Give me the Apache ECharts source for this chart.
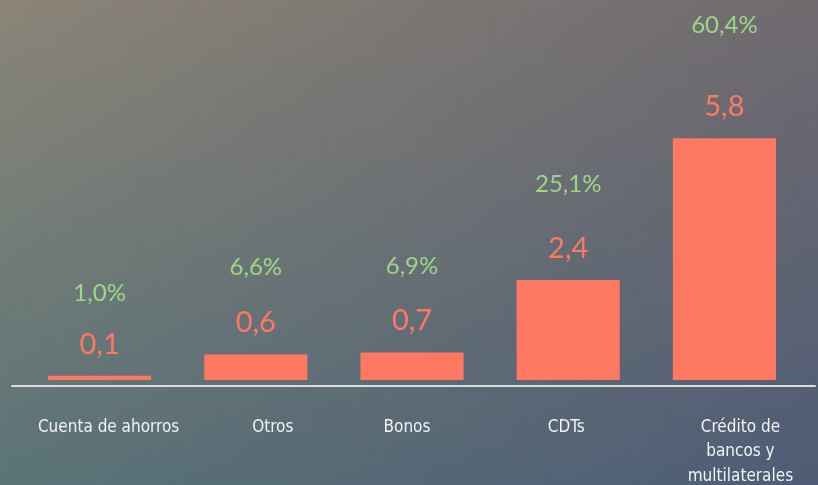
<!DOCTYPE html>
<html>
<head>
<meta charset="utf-8">
<script src="https://cdn.jsdelivr.net/npm/echarts@6/dist/echarts.min.js"></script>
<style>
  html, body { margin: 0; padding: 0; width: 818px; height: 485px; overflow: hidden; }
  body { position: relative; background: linear-gradient(to bottom, #8b8578 0%, #5b7477 100%); }
  #shade { position: absolute; left: 0; top: 0; width: 818px; height: 485px;
    background: linear-gradient(to bottom, #706a6f 0%, #4e5c75 100%);
    -webkit-mask-image: linear-gradient(to right, transparent 0%, black 100%);
    mask-image: linear-gradient(to right, transparent 0%, black 100%); }
  #chart { position: absolute; left: 0; top: 0; width: 818px; height: 485px; }
</style>
</head>
<body>
<div id="shade"></div>
<div id="chart"></div>
<script>
const categories = ["Cuenta de ahorros", "Otros", "Bonos", "CDTs", "Crédito de\nbancos y\nmultilaterales"];
const amounts = [0.1, 0.61, 0.66, 2.4, 5.8];
const shares = [1.0, 6.6, 6.9, 25.1, 60.4];

const fmt = (v, d) => v.toFixed(d).replace('.', ',');

// horizontal nudges of the category labels, as in the original slide layout
const labelNudge = [9, 17, -5, -2, 16];
const categoryItems = categories.map((c, i) => ({
  value: c,
  textStyle: { padding: labelNudge[i] >= 0 ? [0, 0, 0, 2 * labelNudge[i]] : [0, -2 * labelNudge[i], 0, 0] }
}));

const chart = echarts.init(document.getElementById('chart'), null, { renderer: 'canvas' });
chart.setOption({
  backgroundColor: 'transparent',
  animation: false,
  grid: [
    { left: 21.5, right: 15.5, top: 5, bottom: 105, containLabel: false, outerBoundsMode: 'none' },
    { left: 12, right: 3, top: 385.5, height: 0, containLabel: false, outerBoundsMode: 'none' }
  ],
  xAxis: [
    {
      type: 'category', gridIndex: 0, data: categoryItems,
      axisLine: { show: false }, axisTick: { show: false },
      axisLabel: {
        color: '#f2f2f2', fontFamily: "'DejaVu Sans Condensed', 'DejaVu Sans', sans-serif", fontSize: 17,
        lineHeight: 24.5, margin: 35, interval: 0
      }
    },
    {
      type: 'value', gridIndex: 1, min: 0, max: 1,
      axisLine: { show: true, lineStyle: { color: '#dcdcdc', width: 2 } },
      axisTick: { show: false }, axisLabel: { show: false }, splitLine: { show: false }
    }
  ],
  yAxis: [
    { type: 'value', gridIndex: 0, min: 0, max: 9, show: false, splitLine: { show: false } },
    { type: 'value', gridIndex: 0, min: -18.3, max: 64.85, show: false, splitLine: { show: false } },
    { type: 'value', gridIndex: 1, show: false }
  ],
  series: [
    {
      type: 'bar', xAxisIndex: 0, yAxisIndex: 0, data: amounts,
      barCategoryGap: '34%',
      itemStyle: { color: '#ff7862' },
      label: {
        show: true, position: 'top', distance: 17,
        color: '#ff7862', fontFamily: 'Lato', fontSize: 29,
        formatter: p => fmt(p.value, 1)
      },
      silent: true
    },
    {
      type: 'scatter', xAxisIndex: 0, yAxisIndex: 1, data: shares,
      symbolSize: 0, silent: true,
      label: {
        show: true, position: 'inside',
        color: '#a8f08a', fontFamily: 'Lato', fontSize: 24,
        formatter: p => fmt(p.value, 1) + '%'
      }
    }
  ]
});
</script>
</body>
</html>
